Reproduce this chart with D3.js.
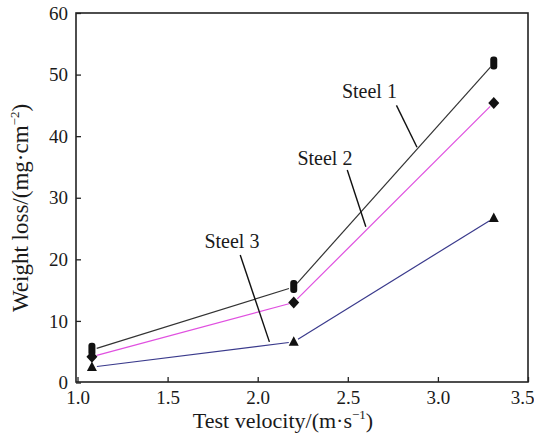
<!DOCTYPE html>
<html>
<head>
<meta charset="utf-8">
<script src="https://cdn.jsdelivr.net/npm/d3@7"></script>
<style>
  body { margin: 0; background: #fff; }
  text { font-family: "Liberation Serif", "Times New Roman", serif; fill: #1a1a1a; }
</style>
</head>
<body>
<div id="chart"></div>
<script>
// data
var velocity = [1.08, 2.2, 3.31];
var steel1 = [5.3, 15.5, 51.8];
var steel2 = [4.2, 13.0, 45.4];
var steel3 = [2.5, 6.6, 26.7];
var seriesNames = ["Steel 1", "Steel 2", "Steel 3"];
var xTicks = [1.0, 1.5, 2.0, 2.5, 3.0, 3.5];
var yTicks = [0, 10, 20, 30, 40, 50, 60];

// label positions, in data units: text anchor, then leader line from/to
var labelAt = [[2.62, 46.2], [2.373, 35.3], [1.857, 21.8]];
var leaderFrom = [[2.77, 45.0], [2.497, 34.5], [1.903, 20.7]];
var leaderTo = [[2.884, 38.2], [2.60, 25.3], [2.065, 6.6]];

var width = 534, height = 435;
var plotLeft = 76, plotRight = 528, plotTop = 13, plotBottom = 382;

var svg = d3.select("#chart").append("svg")
    .attr("width", width)
    .attr("height", height);

var xScale = d3.scaleLinear().domain([1.0, 3.5]).range([77.5, plotRight]),
    yScale = d3.scaleLinear().domain([0, 60]).range([plotBottom + 0.5, plotTop]);

// axes, ticks point inward
var xAxis = d3.axisTop(xScale).tickValues(xTicks).tickSize(5).tickFormat(d3.format(".1f")),
    yAxis = d3.axisRight(yScale).tickValues(yTicks).tickSize(5).tickFormat(d3.format("d"));

var gx = svg.append("g")
    .attr("transform", "translate(0," + plotBottom + ")")
    .call(xAxis);
gx.select(".domain").remove();
gx.selectAll("line").attr("stroke", "#222").attr("stroke-width", 1.3);
gx.selectAll("text")
    .attr("y", 22)
    .attr("dy", 0)
    .style("font-size", "19px")
    .style("font-family", "Liberation Serif");
// last label sits against the right edge, as in the original
gx.selectAll(".tick").filter(function(d) { return d == 3.5; }).select("text")
    .attr("text-anchor", "end")
    .attr("x", 6);

var gy = svg.append("g")
    .attr("transform", "translate(" + plotLeft + ",0)")
    .call(yAxis);
gy.select(".domain").remove();
gy.selectAll("line").attr("stroke", "#222").attr("stroke-width", 1.3);
gy.selectAll("text")
    .attr("x", -8)
    .attr("text-anchor", "end")
    .style("font-size", "19px")
    .style("font-family", "Liberation Serif");

// frame
svg.append("rect")
    .attr("x", plotLeft)
    .attr("y", plotTop)
    .attr("width", plotRight - plotLeft)
    .attr("height", plotBottom - plotTop)
    .attr("fill", "none")
    .attr("stroke", "#222")
    .attr("stroke-width", 1.6);

// axis titles
var xt = svg.append("text")
    .attr("x", 283)
    .attr("y", 428)
    .attr("text-anchor", "middle")
    .style("font-size", "22px");
xt.append("tspan").text("Test velocity/(m\u00b7s");
xt.append("tspan").attr("dy", -9).style("font-size", "13px").text("\u22121");
xt.append("tspan").attr("dy", 9).text(")");

var yt = svg.append("text")
    .attr("transform", "translate(28,208) rotate(-90)")
    .attr("text-anchor", "middle")
    .style("font-size", "23px");
yt.append("tspan").text("Weight loss/(mg\u00b7cm");
yt.append("tspan").attr("dy", -9).style("font-size", "13px").text("\u22122");
yt.append("tspan").attr("dy", 9).text(")");

var series = [
  {values: steel1, color: "#333333", marker: "pill"},
  {values: steel2, color: "#e050e0", marker: "diamond"},
  {values: steel3, color: "#3a3a8c", marker: "triangle"}
];

// lines, drawn segment by segment with a small gap at each marker
var gap = 5;
series.forEach(function(s) {
  var pts = velocity.map(function(v, i) { return [xScale(v), yScale(s.values[i])]; });
  for (var i = 0; i < pts.length - 1; i++) {
    var a = pts[i], b = pts[i + 1];
    var dx = b[0] - a[0], dy = b[1] - a[1], len = Math.sqrt(dx * dx + dy * dy);
    var ux = dx / len, uy = dy / len;
    svg.append("line")
        .attr("x1", a[0] + ux * gap).attr("y1", a[1] + uy * gap)
        .attr("x2", b[0] - ux * gap).attr("y2", b[1] - uy * gap)
        .attr("stroke", s.color)
        .attr("stroke-width", 1.2);
  }
});

// markers
var markers = svg.append("g");
series.forEach(function(s) {
  velocity.forEach(function(v, i) {
    var cx = xScale(v), cy = yScale(s.values[i]);
    if (s.marker == "pill") {
      markers.append("rect")
          .attr("x", cx - 3.5).attr("y", cy - 7)
          .attr("width", 7).attr("height", 13)
          .attr("rx", 3)
          .attr("fill", "#111");
    } else if (s.marker == "diamond") {
      markers.append("path")
          .attr("d", "M" + cx + "," + (cy - 6) + "L" + (cx + 5.5) + "," + cy +
                     "L" + cx + "," + (cy + 6) + "L" + (cx - 5.5) + "," + cy + "Z")
          .attr("fill", "#111");
    } else {
      markers.append("path")
          .attr("d", "M" + cx + "," + (cy - 5.5) + "L" + (cx + 5) + "," + (cy + 4) +
                     "L" + (cx - 5) + "," + (cy + 4) + "Z")
          .attr("fill", "#111");
    }
  });
});

// series labels with leader lines
seriesNames.forEach(function(name, i) {
  svg.append("line")
      .attr("x1", xScale(leaderFrom[i][0])).attr("y1", yScale(leaderFrom[i][1]))
      .attr("x2", xScale(leaderTo[i][0])).attr("y2", yScale(leaderTo[i][1]))
      .attr("stroke", "#111")
      .attr("stroke-width", 1.4);
  svg.append("text")
      .attr("x", xScale(labelAt[i][0]))
      .attr("y", yScale(labelAt[i][1]))
      .attr("text-anchor", "middle")
      .style("font-size", "20px")
      .text(name);
});
</script>
</body>
</html>
